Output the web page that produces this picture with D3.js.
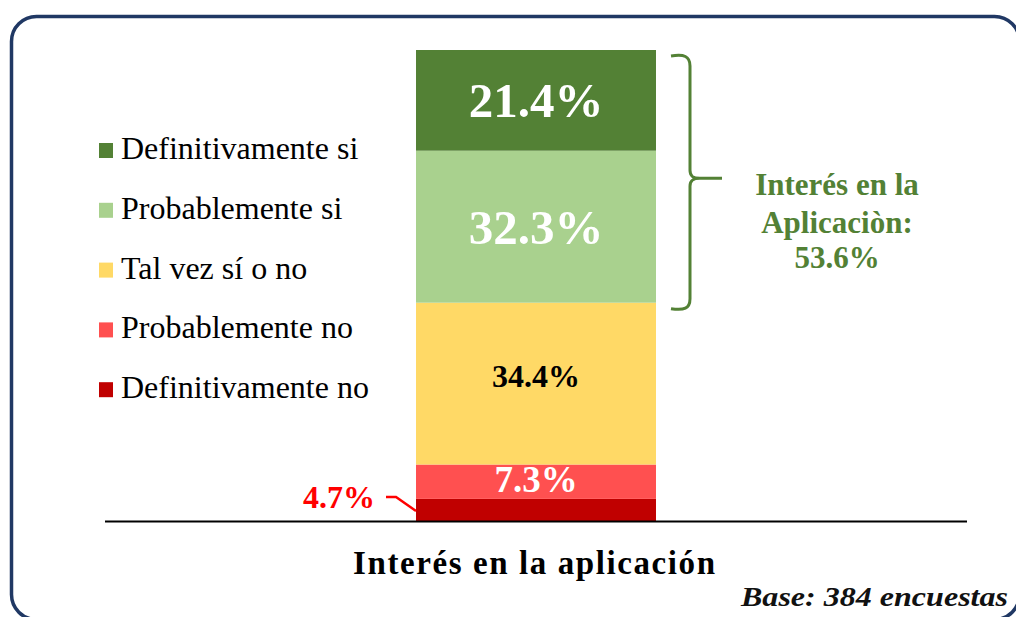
<!DOCTYPE html>
<html>
<head>
<meta charset="utf-8">
<script src="https://cdn.jsdelivr.net/npm/d3@7"></script>
<style>
  body { margin: 0; background: #fff; }
  svg { display: block; font-family: "Liberation Serif", "Times New Roman", serif; }
</style>
</head>
<body>
<svg id="chart" width="1016" height="617"></svg>
<script>
// data (bottom to top of the stack)
const categories = ["Definitivamente no", "Probablemente no", "Tal vez sí o no", "Probablemente si", "Definitivamente si"];
const values = [4.7, 7.3, 34.4, 32.3, 21.4];
const colors = ["#c00000", "#ff5050", "#ffd966", "#a9d18e", "#538135"];
const barName = ["Interés en la aplicación"];
const interestLines = ["Interés en la", "Aplicaciòn:", "53.6%"];
const baseNote = "Base: 384 encuestas";

const svg = d3.select("#chart");

// frame (runs a little past the right and bottom edges)
svg.append("rect")
  .attr("x", 11.5).attr("y", 16.5)
  .attr("width", 1008).attr("height", 603)
  .attr("rx", 25).attr("ry", 25)
  .attr("fill", "none")
  .attr("stroke", "#203864")
  .attr("stroke-width", 3.5);

// scales
const x = d3.scaleBand()
  .domain(barName)
  .range([105, 967])
  .paddingInner(0)
  .paddingOuter(1.296);

const total = d3.sum(values);
const y = d3.scaleLinear()
  .domain([0, total])
  .range([521, 50]);

// stack values
const rows = [];
let acc = 0;
values.forEach((v, i) => {
  rows.push({ cat: categories[i], value: v, y0: acc, y1: acc + v, color: colors[i] });
  acc += v;
});

svg.append("g").selectAll("rect")
  .data(rows)
  .join("rect")
  .attr("x", x(barName[0]))
  .attr("width", x.bandwidth())
  .attr("y", d => y(d.y1))
  .attr("height", d => y(d.y0) - y(d.y1))
  .attr("fill", d => d.color);

// axis line
svg.append("line")
  .attr("x1", 105).attr("x2", 967)
  .attr("y1", 521.5).attr("y2", 521.5)
  .attr("stroke", "#000")
  .attr("stroke-width", 2);

// segment labels
const labelStyle = {
  "Probablemente no": { size: 37, fill: "#fff", dy: "0.28em" },
  "Tal vez sí o no": { size: 32, fill: "#000", dy: "0.1em" },
  "Probablemente si": { size: 49, fill: "#fff", dy: "0.35em" },
  "Definitivamente si": { size: 49, fill: "#fff", dy: "0.35em" }
};
const cx = x(barName[0]) + x.bandwidth() / 2;

svg.append("g").selectAll("text")
  .data(rows.filter(d => labelStyle[d.cat]))
  .join("text")
  .attr("x", cx)
  .attr("y", d => (y(d.y0) + y(d.y1)) / 2)
  .attr("dy", d => labelStyle[d.cat].dy)
  .attr("text-anchor", "middle")
  .attr("font-weight", "bold")
  .attr("font-size", d => labelStyle[d.cat].size)
  .attr("fill", d => labelStyle[d.cat].fill)
  .text(d => d.value.toFixed(1) + "%");

// small segment: label outside with leader
const small = rows[0];
const smallMid = (y(small.y0) + y(small.y1)) / 2;
svg.append("text")
  .attr("x", 375)
  .attr("y", 508)
  .attr("text-anchor", "end")
  .attr("font-weight", "bold")
  .attr("font-size", 32)
  .attr("fill", "#ff0000")
  .text(small.value.toFixed(1) + "%");

svg.append("path")
  .attr("d", `M386,497 L396,497 L${x(barName[0])},${smallMid + 1}`)
  .attr("fill", "none")
  .attr("stroke", "#ff0000")
  .attr("stroke-width", 2.5);

// legend (top to bottom)
const legend = svg.append("g");
const legendRows = rows.slice().reverse();
legendRows.forEach((d, i) => {
  const by = 159 + i * 59.8;
  legend.append("rect")
    .attr("x", 99).attr("y", by - 16)
    .attr("width", 14).attr("height", 15)
    .attr("fill", d.color);
  legend.append("text")
    .attr("x", 121).attr("y", by)
    .attr("font-size", 32)
    .attr("fill", "#000")
    .text(d.cat);
});

// brace around the positive answers
const bTop = y(rows[4].y1) + 6;
const bBot = y(rows[3].y0) + 6;
const bMid = (bTop + bBot) / 2 - 4;
const bx = 690;
svg.append("path")
  .attr("d",
    `M671,${bTop} C684,${bTop - 2} ${bx},${bTop} ${bx},${bTop + 10}` +
    ` L${bx},${bMid - 8} C${bx},${bMid - 2} ${bx + 3},${bMid} ${bx + 10},${bMid} L722,${bMid}` +
    ` M${bx + 10},${bMid} C${bx + 3},${bMid} ${bx},${bMid + 2} ${bx},${bMid + 8}` +
    ` L${bx},${bBot - 10} C${bx},${bBot} 684,${bBot + 2} 671,${bBot}`)
  .attr("fill", "none")
  .attr("stroke", "#538135")
  .attr("stroke-width", 3);

svg.append("g").selectAll("text")
  .data(interestLines)
  .join("text")
  .attr("x", 837)
  .attr("y", (d, i) => [195, 233, 268][i])
  .attr("text-anchor", "middle")
  .attr("font-weight", "bold")
  .attr("font-size", 31)
  .attr("fill", "#538135")
  .text(d => d);

// category title
svg.append("text")
  .attr("x", 353)
  .attr("y", 574)
  .attr("font-weight", "bold")
  .attr("font-size", 33)
  .attr("textLength", 362)
  .attr("lengthAdjust", "spacing")
  .attr("fill", "#000")
  .text(barName[0]);

// base note
svg.append("text")
  .attr("x", 741)
  .attr("y", 606)
  .attr("font-weight", "bold")
  .attr("font-style", "italic")
  .attr("font-size", 27)
  .attr("textLength", 267)
  .attr("lengthAdjust", "spacingAndGlyphs")
  .attr("fill", "#111")
  .text(baseNote);
</script>
</body>
</html>
